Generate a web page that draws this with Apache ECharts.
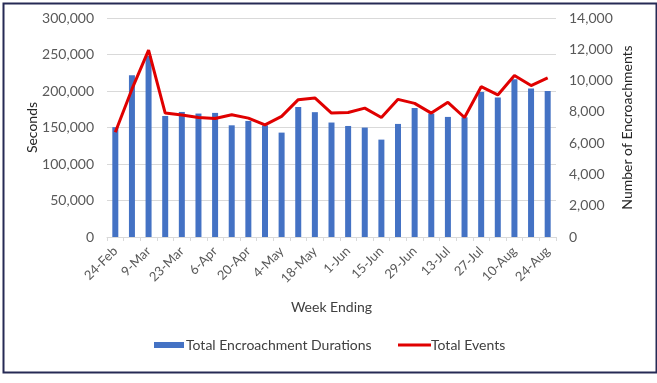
<!DOCTYPE html>
<html><head><meta charset="utf-8">
<script src="https://cdn.jsdelivr.net/npm/echarts@6/dist/echarts.min.js"></script>
<style>html,body{margin:0;padding:0;background:#fff}#c{width:657px;height:383px}</style>
</head><body><div id="c"></div>
<script>
const categories = ["24-Feb","2-Mar","9-Mar","16-Mar","23-Mar","30-Mar","6-Apr","13-Apr","20-Apr","27-Apr","4-May","11-May","18-May","25-May","1-Jun","8-Jun","15-Jun","22-Jun","29-Jun","6-Jul","13-Jul","20-Jul","27-Jul","3-Aug","10-Aug","17-Aug","24-Aug"];
const durations = [150500,221500,248000,165800,171300,169100,170000,153000,159000,153000,143000,178000,171000,156800,152100,149900,133400,154900,176800,169100,164500,164000,198700,191000,216100,203300,200100];
const events = [6700,9450,11950,7920,7800,7640,7580,7820,7600,7170,7710,8780,8890,7920,7960,8240,7640,8800,8540,7920,8610,7640,9610,9080,10320,9680,10170];
const leftTicks = {min:0,max:300000,interval:50000};
const rightTicks = {min:0,max:14000,interval:2000};

const font = 'Lato, "Open Sans", sans-serif';
const fmt = v => Number(v).toLocaleString('en-US');
const chart = echarts.init(document.getElementById('c'), null, {renderer:'canvas'});
chart.setOption({
  animation:false,
  textStyle:{fontFamily:font},
  grid:{left:107,right:101,top:18,bottom:146},
  legend:[
    {data:[{name:'Total Encroachment Durations',icon:'rect'}],left:154,top:338,padding:0,itemWidth:30,itemHeight:6,
     textStyle:{fontFamily:font,fontSize:14,color:'#404040',padding:[0,0,0,-3]}},
    {data:[{name:'Total Events',icon:'rect'}],left:398,top:338,padding:0,itemWidth:33,itemHeight:3,
     textStyle:{fontFamily:font,fontSize:14,color:'#404040',padding:[0,0,0,-5]}}
  ],
  xAxis:{type:'category',data:categories,boundaryGap:true,
    name:'Week Ending',nameLocation:'middle',nameGap:63,nameMoveOverlap:false,
    nameTextStyle:{fontFamily:font,fontSize:14,color:'#404040'},
    axisLine:{lineStyle:{color:'#d9d9d9'}},
    axisTick:{show:true,interval:0,length:4,lineStyle:{color:'#d9d9d9'}},
    axisLabel:{interval:1,rotate:45,margin:12,fontFamily:font,fontSize:13,color:'#595959'}},
  yAxis:[
    {type:'value',min:leftTicks.min,max:leftTicks.max,interval:leftTicks.interval,
     name:'Seconds',nameLocation:'middle',nameGap:68,nameRotate:90,nameMoveOverlap:false,
     nameTextStyle:{fontFamily:font,fontSize:14,color:'#262626'},
     axisLabel:{formatter:fmt,margin:13,fontFamily:font,fontSize:14,color:'#595959'},
     axisLine:{show:false},axisTick:{show:false},
     splitLine:{lineStyle:{color:'#d9d9d9'}}},
    {type:'value',min:rightTicks.min,max:rightTicks.max,interval:rightTicks.interval,position:'right',
     name:'Number of Encroachments',nameLocation:'middle',nameGap:64,nameRotate:90,nameMoveOverlap:false,
     nameTextStyle:{fontFamily:font,fontSize:14,color:'#262626'},
     axisLabel:{formatter:fmt,margin:13,fontFamily:font,fontSize:14,color:'#595959'},
     axisLine:{show:false},axisTick:{show:false},splitLine:{show:false}}
  ],
  series:[
    {name:'Total Encroachment Durations',type:'bar',data:durations,yAxisIndex:0,barWidth:6,
     itemStyle:{color:'#4472c4'},color:'#4472c4'},
    {name:'Total Events',type:'line',data:events,yAxisIndex:1,symbol:'none',color:'#e00000',
     lineStyle:{color:'#e00000',width:3},itemStyle:{color:'#e00000'}}
  ],
  graphic:[{type:'rect',left:1,top:1,shape:{width:653,height:369},style:{fill:'none',stroke:'#262a55',lineWidth:2},silent:true}]
});
</script></body></html>
